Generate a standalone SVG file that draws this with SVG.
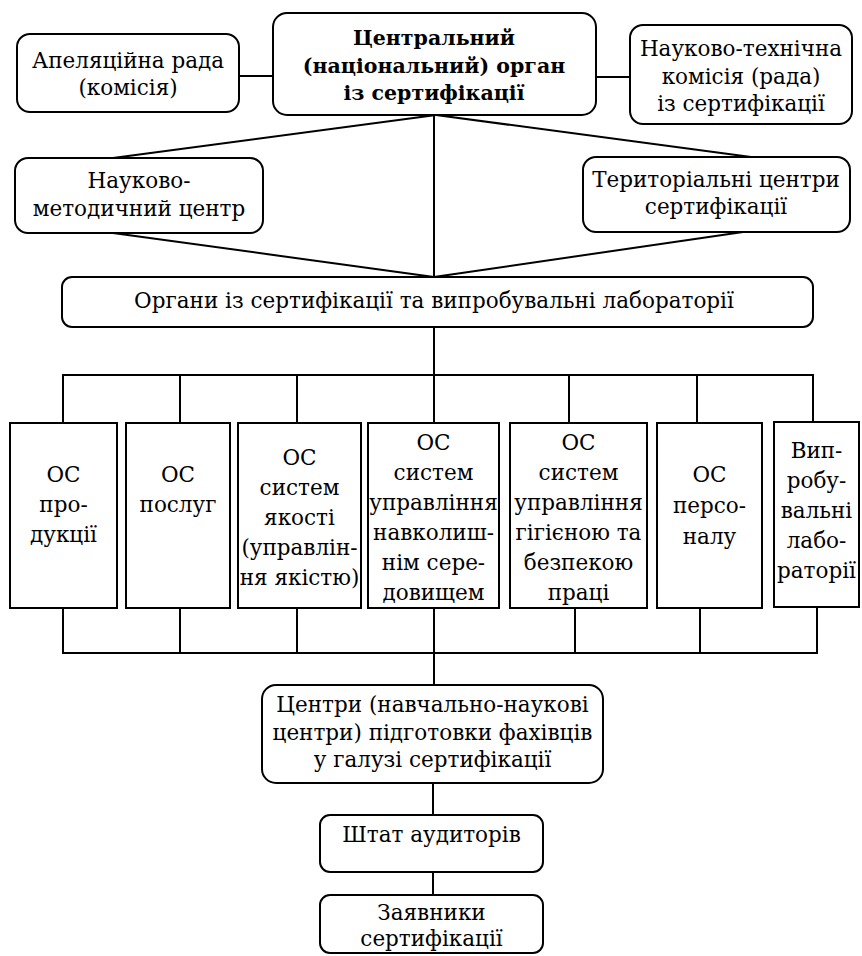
<svg xmlns="http://www.w3.org/2000/svg" width="862" height="956" viewBox="0 0 862 956">
<style>
.b{fill:#fff;stroke:#000;stroke-width:2}
.t{font-family:'DejaVu Serif','Liberation Serif',serif;font-size:21.5px;text-anchor:middle;fill:#000}
.bold{font-weight:bold;font-size:20.5px}
.c{fill:none;stroke:#000;stroke-width:2}
</style>
<rect width="862" height="956" fill="#fff"/>
<g id="connectors" class="c">
<line x1="239" y1="76" x2="273" y2="76"/>
<line x1="596" y1="77" x2="630" y2="77"/>
<line x1="434" y1="115" x2="434" y2="277"/>
<line x1="436" y1="115" x2="113" y2="158"/>
<line x1="436" y1="115" x2="751" y2="157"/>
<line x1="113" y1="233" x2="434" y2="277"/>
<line x1="743" y1="232" x2="434" y2="277"/>
<line x1="434" y1="327" x2="434" y2="375"/>
<polyline points="63,423 63,375 813,375 813,422"/>
<line x1="180" y1="375" x2="180" y2="423"/>
<line x1="297" y1="375" x2="297" y2="423"/>
<line x1="434" y1="375" x2="434" y2="423"/>
<line x1="569" y1="375" x2="569" y2="423"/>
<line x1="697" y1="375" x2="697" y2="423"/>
<polyline points="63,608 63,653 817,653 817,607"/>
<line x1="180" y1="608" x2="180" y2="653"/>
<line x1="297" y1="608" x2="297" y2="653"/>
<line x1="434" y1="608" x2="434" y2="685"/>
<line x1="575" y1="608" x2="575" y2="653"/>
<line x1="700" y1="608" x2="700" y2="653"/>
<line x1="433" y1="783" x2="433" y2="815"/>
<line x1="433" y1="872" x2="433" y2="895"/>
</g>
<g id="apel"><rect class="b" x="17" y="34" width="222" height="78" rx="13"/>
<text class="t" x="128" y="68">Апеляційна рада</text><text class="t" x="128" y="95">(комісія)</text></g>
<g id="central"><rect class="b" x="273" y="13" width="323" height="102" rx="14"/>
<text class="t bold" x="434" y="45">Центральний</text><text class="t bold" x="434" y="73">(національний) орган</text><text class="t bold" x="434" y="100">із сертифікації</text></g>
<g id="ntk"><rect class="b" x="630" y="25" width="222" height="99" rx="13"/>
<text class="t" x="741" y="56">Науково-технічна</text><text class="t" x="741" y="84">комісія (рада)</text><text class="t" x="741" y="111">із сертифікації</text></g>
<g id="nmc"><rect class="b" x="15" y="158" width="248" height="75" rx="13"/>
<text class="t" x="139" y="188">Науково-</text><text class="t" x="139" y="216">методичний центр</text></g>
<g id="tcs"><rect class="b" x="583" y="157" width="267" height="75" rx="13"/>
<text class="t" x="716" y="187">Територіальні центри</text><text class="t" x="716" y="214">сертифікації</text></g>
<g id="organy"><rect class="b" x="62" y="277" width="751" height="50" rx="10"/>
<text class="t" x="434" y="308">Органи із сертифікації та випробувальні лабораторії</text></g>
<g id="os1"><rect class="b" x="10" y="423" width="107" height="185"/>
<text class="t" x="63.5" y="482">ОС</text><text class="t" x="63.5" y="512">про-</text><text class="t" x="63.5" y="542">дукції</text></g>
<g id="os2"><rect class="b" x="126" y="423" width="104" height="185"/>
<text class="t" x="178" y="482">ОС</text><text class="t" x="178" y="512">послуг</text></g>
<g id="os3"><rect class="b" x="238" y="423" width="123" height="185"/>
<text class="t" x="299.5" y="465">ОС</text><text class="t" x="299.5" y="495">систем</text><text class="t" x="299.5" y="525">якості</text><text class="t" x="299.5" y="555">(управлін-</text><text class="t" x="299.5" y="585">ня якістю)</text></g>
<g id="os4"><rect class="b" x="368" y="423" width="131" height="185"/>
<text class="t" x="433.5" y="450">ОС</text><text class="t" x="433.5" y="480">систем</text><text class="t" x="433.5" y="510">управління</text><text class="t" x="433.5" y="540">навколиш-</text><text class="t" x="433.5" y="570">нім сере-</text><text class="t" x="433.5" y="600">довищем</text></g>
<g id="os5"><rect class="b" x="510" y="423" width="137" height="185"/>
<text class="t" x="578.5" y="450">ОС</text><text class="t" x="578.5" y="480">систем</text><text class="t" x="578.5" y="510">управління</text><text class="t" x="578.5" y="540">гігієною та</text><text class="t" x="578.5" y="570">безпекою</text><text class="t" x="578.5" y="600">праці</text></g>
<g id="os6"><rect class="b" x="657" y="423" width="105" height="185"/>
<text class="t" x="709.5" y="482">ОС</text><text class="t" x="709.5" y="513">персо-</text><text class="t" x="709.5" y="544">налу</text></g>
<g id="vl"><rect class="b" x="774" y="422" width="85" height="185"/>
<text class="t" x="816.5" y="458">Вип-</text><text class="t" x="816.5" y="488">робу-</text><text class="t" x="816.5" y="518">вальні</text><text class="t" x="816.5" y="548">лабо-</text><text class="t" x="816.5" y="578">раторії</text></g>
<g id="centry"><rect class="b" x="262" y="685" width="341" height="98" rx="14"/>
<text class="t" x="432.5" y="712">Центри (навчально-наукові</text><text class="t" x="432.5" y="740">центри) підготовки фахівців</text><text class="t" x="432.5" y="767">у галузі сертифікації</text></g>
<g id="shtat"><rect class="b" x="320" y="815" width="223" height="57" rx="10"/>
<text class="t" x="431.5" y="842">Штат аудиторів</text></g>
<g id="zayav"><rect class="b" x="320" y="895" width="223" height="58" rx="10"/>
<text class="t" x="431.5" y="920">Заявники</text><text class="t" x="431.5" y="946">сертифікації</text></g>
</svg>
